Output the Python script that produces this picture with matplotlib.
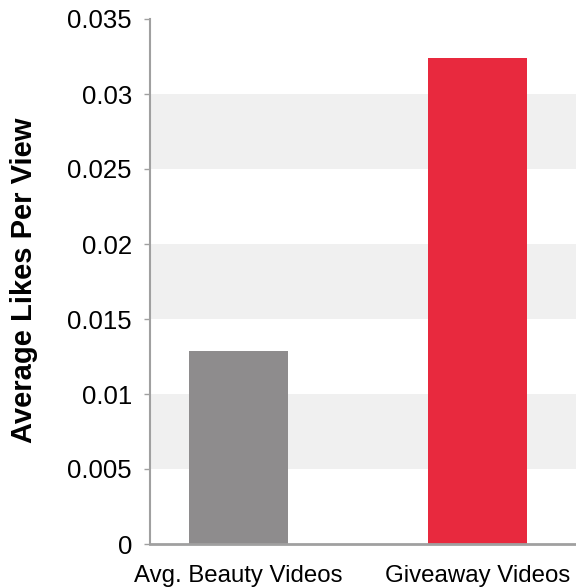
import matplotlib
matplotlib.use("Agg")
import matplotlib.pyplot as plt
import numpy as np

categories = ["Avg. Beauty Videos", "Giveaway Videos"]
values = [0.0129, 0.0324]
colors = ["#8E8C8D", "#E8293E"]
yticks = [0, 0.005, 0.01, 0.015, 0.02, 0.025, 0.03, 0.035]
ytick_labels = ["0", "0.005", "0.01", "0.015", "0.02", "0.025", "0.03", "0.035"]
bands = [(0.005, 0.01), (0.015, 0.02), (0.025, 0.03)]

plt.rcParams['font.family'] = ['Liberation Sans', 'DejaVu Sans']

W, H = 576, 588
fig = plt.figure(figsize=(W / 100, H / 100), dpi=100)
ax = fig.add_axes([150 / W, 1 - 544 / H, (W - 150) / W, (544 - 19) / H])

for lo, hi in bands:
    ax.axhspan(lo, hi, color="#F0F0F0", zorder=0, lw=0)

x = np.arange(len(categories))
ax.bar(x, values, width=0.414, color=colors, zorder=2)

ax.set_xlim(-0.37, 1.41)
ax.set_ylim(0, 0.035)
ax.set_yticks(yticks)
ax.set_yticklabels(ytick_labels)
ax.set_xticks(x)
ax.set_xticklabels(categories)

for s in ["top", "right"]:
    ax.spines[s].set_visible(False)
for s in ["left", "bottom"]:
    ax.spines[s].set_color("#A0A0A0")
ax.spines["left"].set_linewidth(1.5)
ax.spines["bottom"].set_linewidth(2.0)

ax.tick_params(axis="y", length=4, width=1, color="#A0A0A0", labelsize=18.5, pad=9)
ax.tick_params(axis="x", length=0, labelsize=17.3, pad=15)

ax.set_ylabel("Average Likes Per View", fontsize=21, fontweight="bold")
ax.yaxis.label.set_verticalalignment("center")
ax.yaxis.set_label_coords(24 / W, 1 - 280 / H, transform=fig.transFigure)

fig.savefig("out.png", dpi=100)
